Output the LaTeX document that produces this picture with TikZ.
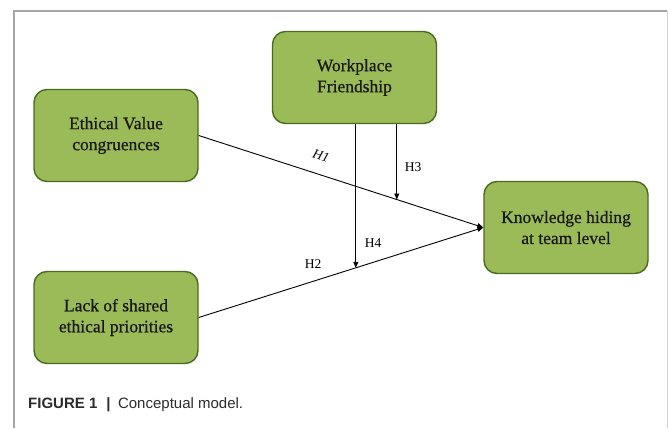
\documentclass[tikz,border=0pt]{standalone}
\usepackage{fontspec}
\setmainfont{Liberation Serif}
\newfontfamily\boxfont[FakeBold=0.7]{Liberation Serif}
\newfontfamily\capfont{Liberation Sans}
\usetikzlibrary{calc,arrows.meta}
\definecolor{boxfill}{HTML}{9BBB59}
\definecolor{boxline}{HTML}{4A6A1E}
\definecolor{framegray}{HTML}{A6A6A6}
\definecolor{captext}{HTML}{2B2B2B}
\tikzset{
  concept/.style={draw=boxline, line width=1.4pt, fill=boxfill, rounded corners=13pt,
    minimum width=164pt, minimum height=92pt, align=center, inner sep=0pt,
    text=black!90, font=\boxfont\fontsize{17.5}{21}\selectfont},
  link/.style={draw=black, line width=0.9pt, -{Triangle[length=6pt,width=5pt]}},
  hlabel/.style={font=\fontsize{13.5}{15}\selectfont, inner sep=0.5pt}
}
\begin{document}
\begin{tikzpicture}[x=1pt,y=-1pt]
\useasboundingbox (0,0) rectangle (668,428);
% frame
\draw[framegray, line width=1.2pt] (14,428) -- (14,11) -- (667,11);
\draw[framegray!50, line width=0.8pt] (667,11) -- (667,428);
% boxes
\node[concept] (wf) at (354.5,77.5) {Workplace\\Friendship};
\node[concept] (ev) at (116,135.5) {Ethical Value\\congruences};
\node[concept] (ls) at (116,317.5) {Lack of shared\\ethical priorities};
\node[concept] (kh) at (566,227.5) {Knowledge hiding\\at team level};
% direct paths
\draw[link] (ev.east) -- (kh.west);
\draw[link] (ls.east) -- (kh.west);
% moderation points
\coordinate (m3) at ($(ev.east)!0.696!(kh.west)$);
\coordinate (m4) at ($(ls.east)!0.552!(kh.west)$);
\coordinate (w3) at (m3 |- wf.south);
\coordinate (w4) at (m4 |- wf.south);
\draw[link] (w3) -- (m3);
\draw[link] (w4) -- (m4);
% labels
\node[hlabel, rotate=-18] (l1) at (321,156) {\textit{H1}};
\node[hlabel] (l3) at (413,167) {H3};
\node[hlabel] (l4) at (373,243) {H4};
\node[hlabel] (l2) at (313,264) {H2};
% caption
\node[anchor=base west, inner sep=0pt, text=captext, font=\capfont\fontsize{15}{18}\selectfont] (cap) at (28,408)
  {\textbf{FIGURE 1}\hspace{0.6em}\textbf{|}\hspace{0.5em}Conceptual model.};
\end{tikzpicture}
\end{document}
